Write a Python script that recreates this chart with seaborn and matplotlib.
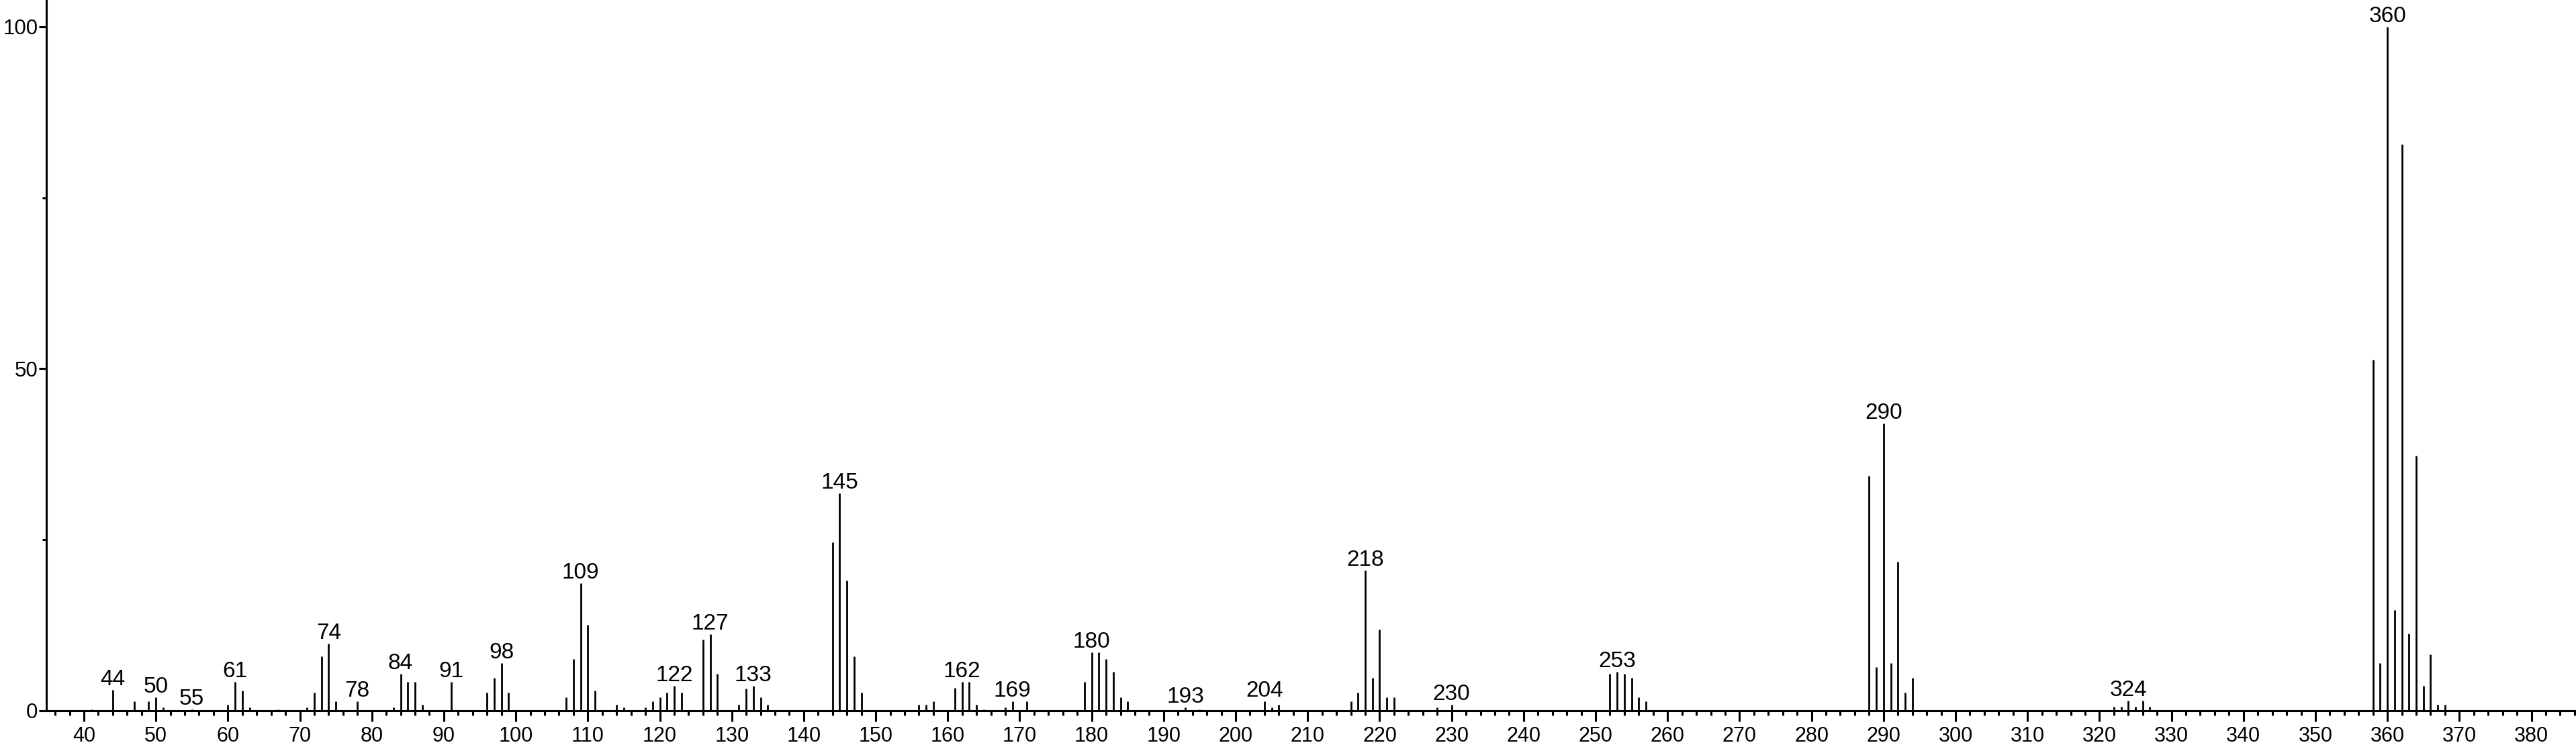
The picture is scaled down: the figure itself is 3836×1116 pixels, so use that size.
import matplotlib
matplotlib.use("Agg")
import matplotlib.pyplot as plt
from matplotlib.ticker import MultipleLocator
import seaborn as sns

# mass spectrum: m/z and relative intensity (%)
mz = [41, 44, 47, 49, 50, 51, 55, 60, 61, 62, 63, 67, 71, 72, 73, 74, 75, 78,
      83, 84, 85, 86, 87, 91, 96, 97, 98, 99, 107, 108, 109, 110, 111,
      114, 115, 118, 119, 120, 121, 122, 123, 126, 127, 128,
      131, 132, 133, 134, 135, 144, 145, 146, 147, 148,
      156, 157, 158, 161, 162, 163, 164, 165, 168, 169, 171,
      179, 180, 181, 182, 183, 184, 185, 193, 195,
      204, 205, 206, 216, 217, 218, 219, 220, 221, 222, 228, 230,
      252, 253, 254, 255, 256, 257,
      288, 289, 290, 291, 292, 293, 294,
      322, 323, 324, 325, 326, 327,
      358, 359, 360, 361, 362, 363, 364, 365, 366, 367, 368]
intensity = [0.2, 3.0, 1.4, 1.4, 2.0, 0.5, 0.2, 0.85, 4.2, 2.95, 0.5, 0.2, 0.5, 2.65, 7.9, 9.8, 1.4, 1.4,
             0.5, 5.4, 4.2, 4.2, 0.85, 4.2, 2.65, 4.85, 6.95, 2.65, 2.0, 7.6, 18.6, 12.6, 2.95,
             0.85, 0.5, 0.5, 1.4, 2.0, 2.65, 3.6, 2.65, 10.4, 11.2, 5.4,
             0.85, 3.25, 3.6, 2.0, 0.85, 24.6, 31.8, 19.0, 7.9, 2.65,
             0.85, 0.85, 1.4, 3.3, 4.2, 4.2, 0.85, 0.2, 0.5, 1.4, 1.4,
             4.2, 8.5, 8.5, 7.6, 5.7, 2.0, 1.4, 0.5, 0.2,
             1.4, 0.5, 0.85, 1.4, 2.65, 20.5, 4.85, 11.9, 2.0, 2.0, 0.5, 0.85,
             5.4, 5.7, 5.4, 4.85, 2.0, 1.4,
             34.3, 6.4, 42.0, 6.95, 21.8, 2.65, 4.85,
             0.6, 0.6, 1.5, 0.6, 1.5, 0.6,
             51.3, 6.95, 100.0, 14.7, 82.8, 11.3, 37.3, 3.6, 8.2, 0.85, 0.85]

labelled = [44, 50, 55, 61, 74, 78, 84, 91, 98, 109, 122, 127, 133, 145, 162,
            169, 180, 193, 204, 218, 230, 253, 290, 324, 360]

sns.set_theme(style="ticks")
plt.rcParams["font.family"] = ["Liberation Sans", "DejaVu Sans"]

W, H = 3836, 1116
fig = plt.figure(figsize=(W / 100, H / 100), dpi=100)
ax = fig.add_axes([69 / W, (H - 1059) / H, 1 - 69 / W, 1059 / H])

ax.vlines(mz, 0, intensity, colors="black", linewidth=2.0)

heights = dict(zip(mz, intensity))
for m in labelled:
    ax.annotate(str(m), (m, heights[m]), xytext=(0, 5), textcoords="offset points",
                ha="center", va="baseline", fontsize=24, color="black",
                annotation_clip=False)

ax.set_xlim(34.78, 386.2)
ax.set_ylim(0, 103.9)
ax.xaxis.set_major_locator(MultipleLocator(10))
ax.xaxis.set_minor_locator(MultipleLocator(2))
ax.yaxis.set_major_locator(MultipleLocator(50))
ax.yaxis.set_minor_locator(MultipleLocator(25))

ax.tick_params(axis="x", which="major", length=11.5, width=2.2, pad=5,
               labelsize=22, color="black", labelcolor="black")
ax.tick_params(axis="x", which="minor", length=5, width=2.2, color="black")
ax.tick_params(axis="y", which="major", length=8, width=2.2, pad=1,
               labelsize=22.5, color="black", labelcolor="black")
ax.tick_params(axis="y", which="minor", length=4.3, width=2.2, color="black")

for side in ["top", "right"]:
    ax.spines[side].set_visible(False)
for side in ["left", "bottom"]:
    ax.spines[side].set_linewidth(2.2)
    ax.spines[side].set_color("black")
ax.set_facecolor("white")
fig.patch.set_facecolor("white")

fig.savefig("out.png", dpi=100)
